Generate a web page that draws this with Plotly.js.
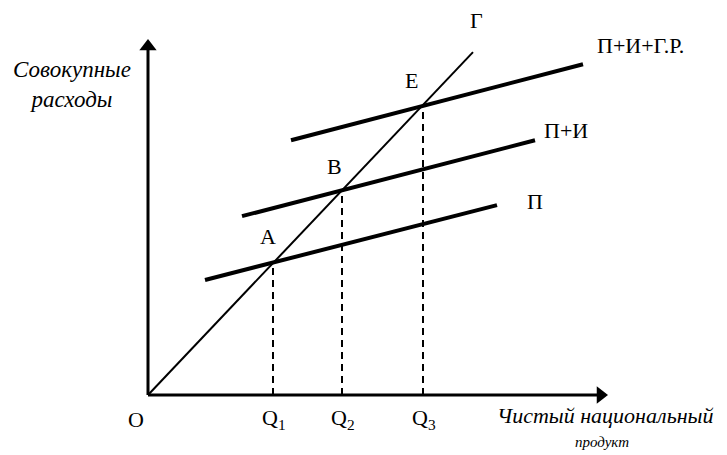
<!DOCTYPE html>
<html>
<head>
<meta charset="utf-8">
<script src="https://cdn.plot.ly/plotly-3.0.1.min.js"></script>
<style>html,body{margin:0;padding:0;background:#fff;}#chart{width:727px;height:455px;}</style>
</head>
<body>
<div id="chart"></div>
<script>
// ---- data (model units; the 45-degree line is Y = X) ----
const curveNames = ['П', 'П+И', 'П+И+Г.Р.'];
const curveStartX = [1.14, 1.88, 2.86];
const curveStartY = [2.18, 3.39, 4.83];
const curveEndX = [6.98, 7.74, 8.70];
const curveEndY = [3.60, 4.83, 6.27];
const pointNames = ['А', 'В', 'Е'];
const qLabels = ['Q<sub>1</sub>', 'Q<sub>2</sub>', 'Q<sub>3</sub>'];
const qValues = [2.50, 3.88, 5.50];
const guideX = [0, 6.50];
const guideY = [0, 6.50];
const guideName = 'Г';
const xAxisEnd = 9.2;
const yAxisEnd = 6.75;
const originLabel = 'O';
const yTitle = ['Совокупные', 'расходы'];
const xTitle = ['Чистый национальный', 'продукт'];

const FONT = '"Liberation Serif", "Times New Roman", Times, "DejaVu Serif", serif';
const X_RANGE = [-2.96, 11.58], Y_RANGE = [-1.1374, 7.488];
const W = 727, H = 455;
const xPerPx = (X_RANGE[1] - X_RANGE[0]) / W;
const yPerPx = (Y_RANGE[1] - Y_RANGE[0]) / H;
const HEAD = 15;           // marker size (px)
const headR = HEAD / 2;

const traces = [];
// axes
traces.push({x: [0, xAxisEnd - 8 * xPerPx], y: [0, 0], mode: 'lines', line: {color: '#000', width: 3}, hoverinfo: 'skip'});
traces.push({x: [0, 0], y: [0, yAxisEnd - 8 * yPerPx], mode: 'lines', line: {color: '#000', width: 3}, hoverinfo: 'skip'});
traces.push({x: [xAxisEnd - headR * xPerPx], y: [0], mode: 'markers',
  marker: {symbol: 'triangle-right', size: HEAD, color: '#000', line: {width: 0}}, hoverinfo: 'skip'});
traces.push({x: [0], y: [yAxisEnd - headR * yPerPx], mode: 'markers',
  marker: {symbol: 'triangle-up', size: HEAD, color: '#000', line: {width: 0}}, hoverinfo: 'skip'});

traces.push({x: guideX, y: guideY, mode: 'lines', line: {color: '#000', width: 2}, hoverinfo: 'skip'});
for (let i = 0; i < curveNames.length; i++) {
  traces.push({x: [curveStartX[i], curveEndX[i]], y: [curveStartY[i], curveEndY[i]], mode: 'lines',
    line: {color: '#000', width: 4}, hoverinfo: 'skip'});
}
for (let i = 0; i < qValues.length; i++) {
  traces.push({x: [qValues[i], qValues[i]], y: [0, qValues[i]], mode: 'lines',
    line: {color: '#000', width: 2, dash: '7px,5px'}, hoverinfo: 'skip'});
}

const ann = [];
function lab(text, x, y, xs, ys, size, xanchor) {
  ann.push({x: x, y: y, xref: 'x', yref: 'y', text: text, showarrow: false,
    xshift: xs, yshift: ys, xanchor: xanchor || 'center', yanchor: 'middle',
    font: {family: FONT, size: size || 22, color: '#000'}});
}
// curve labels
const curveLabShift = [[38, 4, 'center'], [31, 10, 'center'], [12, 19, 'left']];
for (let i = 0; i < curveNames.length; i++) {
  lab(curveNames[i], curveEndX[i], curveEndY[i], curveLabShift[i][0], curveLabShift[i][1], 22, curveLabShift[i][2]);
}
lab(guideName, guideX[1], guideY[1], 3, 32);
// points
const ptShift = [[-5, 27], [-8, 24], [-12, 24]];
for (let i = 0; i < pointNames.length; i++) {
  lab(pointNames[i], qValues[i], qValues[i], ptShift[i][0], ptShift[i][1]);
}
// q labels
for (let i = 0; i < qValues.length; i++) {
  lab(qLabels[i], qValues[i], 0, 1, -24);
}
lab(originLabel, 0, 0, -12, -24);
// titles
ann.push({x: 72 / W, y: 1 - 84 / H, xref: 'paper', yref: 'paper', showarrow: false,
  text: '<i>' + yTitle.join('<br>') + '</i>', align: 'center', xanchor: 'center', yanchor: 'middle',
  font: {family: FONT, size: 23, color: '#000'}});
ann.push({x: 605 / W, y: 1 - 415 / H, xref: 'paper', yref: 'paper', showarrow: false,
  text: '<i>' + xTitle[0] + '</i>', xanchor: 'center', yanchor: 'middle',
  font: {family: FONT, size: 22, color: '#000'}});
ann.push({x: 602 / W, y: 1 - 442 / H, xref: 'paper', yref: 'paper', showarrow: false,
  text: '<i>' + xTitle[1] + '</i>', xanchor: 'center', yanchor: 'middle',
  font: {family: FONT, size: 15, color: '#000'}});

const layout = {
  width: W, height: H,
  margin: {l: 0, r: 0, t: 0, b: 0},
  paper_bgcolor: '#fff', plot_bgcolor: '#fff',
  showlegend: false,
  font: {family: FONT},
  xaxis: {range: X_RANGE, visible: false, fixedrange: true},
  yaxis: {range: Y_RANGE, visible: false, fixedrange: true},
  annotations: ann
};
Plotly.newPlot('chart', traces, layout, {displayModeBar: false, staticPlot: true});
</script>
</body>
</html>
